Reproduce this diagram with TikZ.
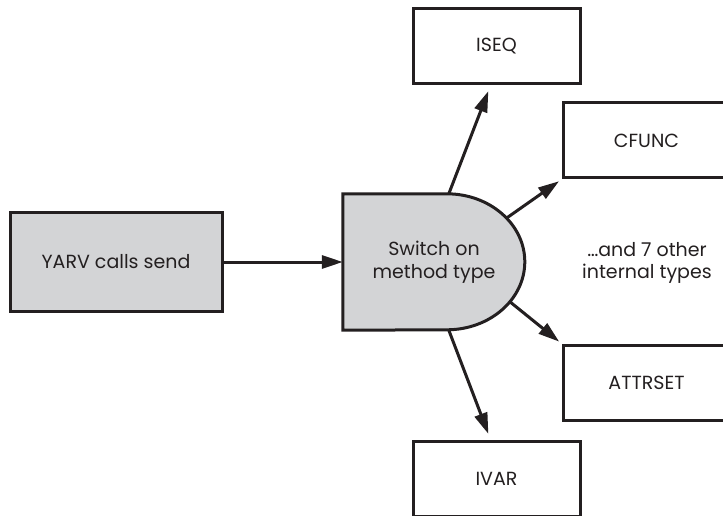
\documentclass[tikz,border=0pt]{standalone}
\usepackage{fontspec}
\setmainfont{Poppins}
\usepackage{tikz}
\usetikzlibrary{arrows.meta, positioning, backgrounds, calc}
\definecolor{inkdark}{HTML}{231F20}
\definecolor{boxgray}{HTML}{D3D4D6}
\newcommand{\labelfont}{\fontsize{19}{22.5}\selectfont}

\begin{document}
\begin{tikzpicture}[x=1pt, y=1pt,
    typebox/.style={draw=inkdark, line width=3pt, minimum width=167pt, minimum height=75pt,
      inner sep=0pt, text=inkdark, font=\labelfont},
    link/.style={draw=inkdark, line width=3pt, -{Triangle[length=21pt, width=13pt]}}]
    \clip (0,0) rectangle (723,515);

    % caller
    \node[typebox, fill=boxgray, minimum width=212pt, minimum height=98pt] (yarv) at (116,253) {YARV calls send};

    % dispatch
    \node[minimum width=182pt, minimum height=136pt, inner sep=0pt, align=center,
      text=inkdark, font=\labelfont] (switch) at (434,253) {Switch on\\method type};
    \begin{scope}[on background layer]
      \draw[fill=boxgray, draw=inkdark, line width=3pt] (switch.south west) -- (switch.north west)
        -- ++(104,0) arc[start angle=90, end angle=-90, x radius=78pt, y radius=68pt] -- cycle;
    \end{scope}
    \coordinate (arc) at ($(switch.north west)+(104,-68)$);
    \coordinate (sw-top) at ($(switch.north west)+(106,0)$);
    \coordinate (sw-bot) at ($(switch.south west)+(106,0)$);
    \path (arc) ++(40:78pt and 68pt) coordinate (sw-up);
    \path (arc) ++(-36:78pt and 68pt) coordinate (sw-down);

    % method types
    \node[typebox] (iseq) at (496.5,468.5) {ISEQ};
    \node[typebox] (cfunc) at (646.5,374.5) {CFUNC};
    \node[typebox] (attrset) at (646.5,132.5) {ATTRSET};
    \node[typebox] (ivar) at (496.5,36.5) {IVAR};
    \node[align=center, text=inkdark, font=\labelfont] (others) at (647,252) {…and 7 other\\internal types};

    \draw[link] (yarv.east) -- (yarv.east -| switch.west);
    \draw[link, shorten >=6pt] (sw-top) -- ([xshift=-6pt]iseq.south);
    \draw[link, shorten >=3pt] (sw-up) -- (cfunc.south west);
    \draw[link, shorten >=3pt] (sw-down) -- (attrset.north west);
    \draw[link, shorten >=6pt] (sw-bot) -- ([xshift=-6pt]ivar.north);
  \end{tikzpicture}
\end{document}
